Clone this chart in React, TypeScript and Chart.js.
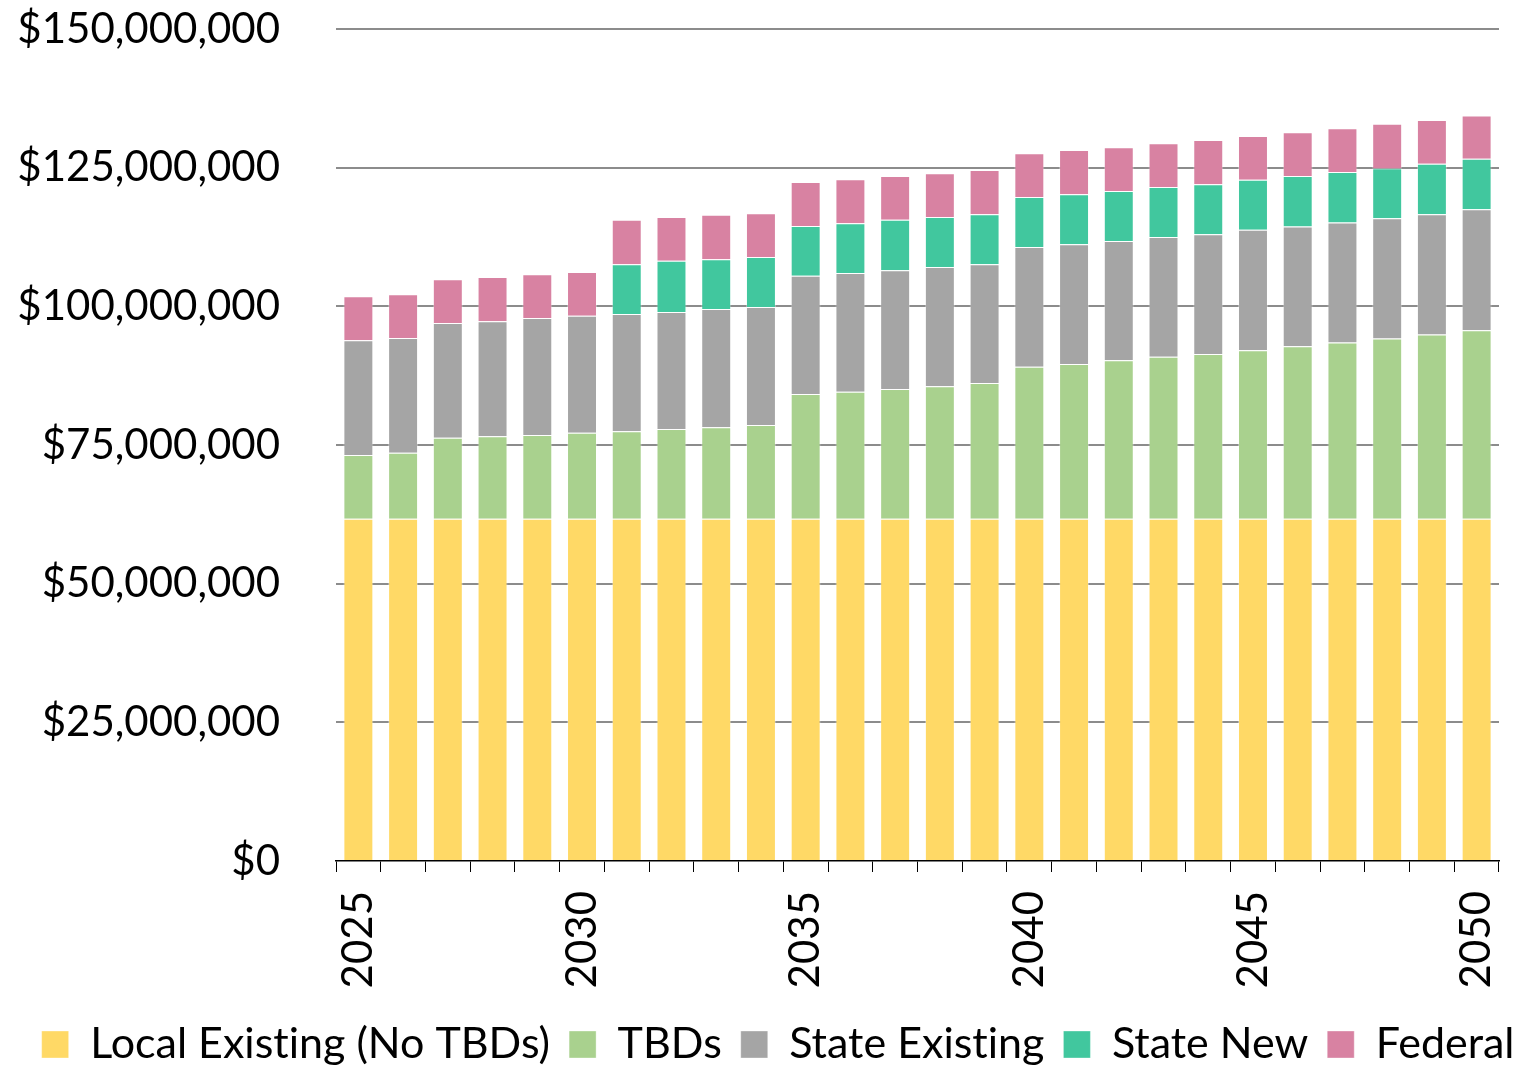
import React, { useEffect, useRef } from 'react';
import { Chart, registerables } from 'chart.js';

Chart.register(...registerables);

const years = [
  '2025', '2026', '2027', '2028', '2029', '2030', '2031', '2032', '2033', '2034',
  '2035', '2036', '2037', '2038', '2039', '2040', '2041', '2042', '2043', '2044',
  '2045', '2046', '2047', '2048', '2049', '2050',
];

const localExisting = [
  61700000, 61700000, 61700000, 61700000, 61700000, 61700000, 61700000, 61700000, 61700000, 61700000,
  61700000, 61700000, 61700000, 61700000, 61700000, 61700000, 61700000, 61700000, 61700000, 61700000,
  61700000, 61700000, 61700000, 61700000, 61700000, 61700000,
];

const tbds = [
  11500000, 11900000, 14600000, 14900000, 15100000, 15500000, 15800000, 16200000, 16500000, 16900000,
  22500000, 22900000, 23400000, 23900000, 24500000, 27400000, 27900000, 28600000, 29200000, 29700000,
  30400000, 31100000, 31800000, 32500000, 33200000, 34000000,
];

const stateExisting = [
  20700000, 20700000, 20700000, 20700000, 21100000, 21100000, 21100000, 21100000, 21300000, 21300000,
  21300000, 21400000, 21400000, 21500000, 21400000, 21600000, 21600000, 21500000, 21600000, 21600000,
  21700000, 21600000, 21600000, 21700000, 21700000, 21800000,
];

const stateNew = [
  0, 0, 0, 0, 0, 0, 9000000, 9200000, 9000000, 9000000,
  9000000, 9000000, 9100000, 9000000, 9000000, 9000000, 9000000, 9000000, 9000000, 9000000,
  9000000, 9100000, 9100000, 9000000, 9100000, 9100000,
];

const federal = [
  7900000, 7900000, 7900000, 8000000, 7900000, 7900000, 8000000, 7900000, 8000000, 7900000,
  7900000, 7900000, 7900000, 7900000, 8000000, 7900000, 8000000, 7900000, 7900000, 8000000,
  7900000, 7900000, 7900000, 8000000, 7900000, 7800000,
];

const seriesNames = ['Local Existing (No TBDs)', 'TBDs', 'State Existing', 'State New', 'Federal'];
const seriesColors = ['#FFD966', '#A9D18E', '#A5A5A5', '#41C79E', '#D882A2'];

const yTicks = [0, 25000000, 50000000, 75000000, 100000000, 125000000, 150000000];

const FONT = 'Lato';

const noLigatures = {
  id: 'noLigatures',
  beforeDraw(chart: any) {
    try {
      (chart.ctx as any).textRendering = 'optimizeSpeed';
    } catch (e) {
      /* ignore */
    }
  },
};

export default function App() {
  const canvasRef = useRef<HTMLCanvasElement | null>(null);

  useEffect(() => {
    if (!canvasRef.current) return;
    const seriesData = [localExisting, tbds, stateExisting, stateNew, federal];
    const chart = new Chart(canvasRef.current, {
      type: 'bar',
      data: {
        labels: years,
        datasets: seriesNames.map((name, i) => ({
          label: name,
          data: seriesData[i],
          backgroundColor: seriesColors[i],
          borderColor: 'rgba(255,255,255,0.35)',
          borderWidth: 1,
          barPercentage: 0.67,
          categoryPercentage: 1,
          yAxisID: 'y',
        })),
      },
      plugins: [noLigatures],
      options: {
        animation: false,
        responsive: true,
        maintainAspectRatio: false,
        layout: { padding: { left: 0, right: -13, top: 29, bottom: -7 } },
        font: { family: FONT },
        plugins: {
          legend: {
            position: 'bottom',
            align: 'end',
            labels: {
              boxWidth: 27,
              boxHeight: 27,
              padding: 19,
              color: '#000',
              font: { family: FONT, size: 43 },
            },
          },
          tooltip: { enabled: false },
        },
        scales: {
          x: {
            stacked: true,
            offset: true,
            afterFit: (scale: any) => {
              scale.height = 143;
              scale.paddingLeft = 0;
              scale.paddingRight = 0;
            },
            grid: {
              display: true,
              offset: true,
              drawOnChartArea: false,
              drawTicks: true,
              tickLength: 11,
              color: '#000',
              lineWidth: 1,
            },
            border: { display: true, color: '#000', width: 1.5 },
            ticks: {
              autoSkip: false,
              minRotation: 90,
              maxRotation: 90,
              padding: 19,
              color: '#000',
              font: { family: FONT, size: 42 },
              callback: (_v: any, idx: number) => {
                const y = years[idx];
                return Number(y) % 5 === 0 ? y : '';
              },
            },
          },
          y: {
            stacked: true,
            position: 'left',
            min: 0,
            max: 150000000,
            afterFit: (scale: any) => {
              scale.width = 336;
            },
            afterBuildTicks: (scale: any) => {
              scale.ticks = yTicks.map((v) => ({ value: v }));
            },
            grid: {
              drawTicks: true,
              tickLength: 53,
              tickColor: 'rgba(0,0,0,0)',
              lineWidth: 2,
              color: (ctx: any) => (ctx.tick && ctx.tick.value === 0 ? 'rgba(0,0,0,0)' : '#8C8C8C'),
            },
            border: { display: false },
            ticks: {
              padding: 3,
              color: '#000',
              font: { family: FONT, size: 42 },
              callback: (v: any) => '$' + Number(v).toLocaleString('en-US'),
            },
          },
          y2: {
            type: 'linear',
            position: 'right',
            display: true,
            afterFit: (scale: any) => {
              scale.width = 36;
              scale.paddingTop = 0;
              scale.paddingBottom = 0;
            },
            grid: { display: false, drawTicks: false },
            border: { display: false },
            ticks: { display: false },
          },
        },
      },
    });
    return () => chart.destroy();
  }, []);

  return (
    <div style={{ position: 'absolute', left: 0, top: 0, width: 1522, height: 1069, background: '#fff' }}>
      <canvas ref={canvasRef} />
    </div>
  );
}
